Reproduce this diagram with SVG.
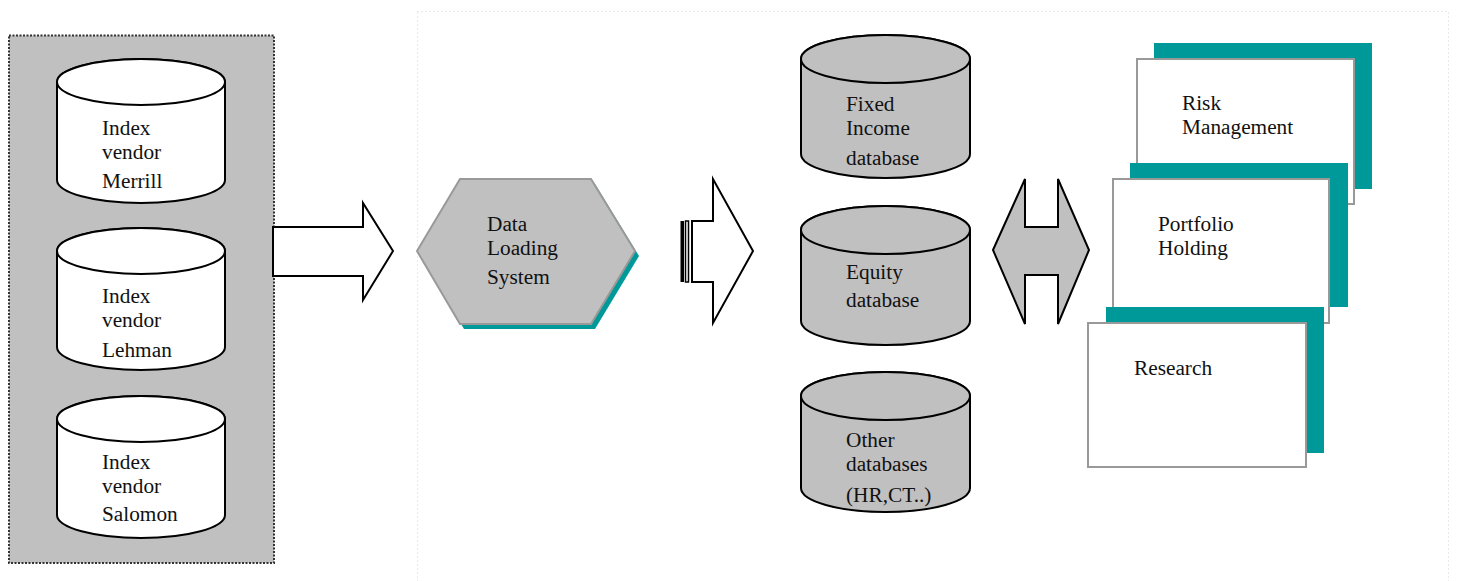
<svg xmlns="http://www.w3.org/2000/svg" width="1457" height="581" viewBox="0 0 1457 581">
  <style>
    .lbl { font-family: "Liberation Serif", "Times New Roman", serif; font-size: 21.3px; fill: #111; }
    .cyl { stroke: #000; stroke-width: 2; }
    .white { fill: #fff; }
    .grey { fill: #c0c0c0; }
    .arrow { fill: #fff; stroke: #000; stroke-width: 2; stroke-linejoin: miter; }
    .shadow { fill: #009999; }
    .card { fill: #fff; stroke: #999; stroke-width: 2; }
  </style>

  <!-- light dotted frame around the processing area -->
  <rect x="417.5" y="11.5" width="1031" height="600" fill="none" stroke="#d4d4d4" stroke-width="1" stroke-dasharray="1,3"/>

  <!-- vendor panel -->
  <g id="vendor-panel">
    <rect x="9" y="35.5" width="265" height="527.5" fill="#c0c0c0" stroke="#333" stroke-width="2" stroke-dasharray="2,1.5"/>
  </g>

  <g id="vendor-merrill">
    <path class="cyl white" d="M57,82 A84,23 0 0 1 225,82 V180 A84,23 0 0 1 57,180 Z"/>
    <ellipse class="cyl white" cx="141" cy="82" rx="84" ry="23"/>
    <text class="lbl" x="102" y="135">Index</text>
    <text class="lbl" x="102" y="159">vendor</text>
    <text class="lbl" x="102" y="188">Merrill</text>
  </g>

  <g id="vendor-lehman">
    <path class="cyl white" d="M57,251 A84,23 0 0 1 225,251 V347 A84,23 0 0 1 57,347 Z"/>
    <ellipse class="cyl white" cx="141" cy="251" rx="84" ry="23"/>
    <text class="lbl" x="102" y="303">Index</text>
    <text class="lbl" x="102" y="327">vendor</text>
    <text class="lbl" x="102" y="357">Lehman</text>
  </g>

  <g id="vendor-salomon">
    <path class="cyl white" d="M57,419 A84,23 0 0 1 225,419 V515 A84,23 0 0 1 57,515 Z"/>
    <ellipse class="cyl white" cx="141" cy="419" rx="84" ry="23"/>
    <text class="lbl" x="102" y="469">Index</text>
    <text class="lbl" x="102" y="493">vendor</text>
    <text class="lbl" x="102" y="521">Salomon</text>
  </g>

  <!-- loader -->
  <g id="data-loading">
    <polygon class="shadow" points="421,256 464,184 595,184 639,256 595,329 464,329"/>
    <polygon points="417,251 460,179 591,179 635,251 591,324 460,324" fill="#c0c0c0" stroke="#999" stroke-width="2"/>
    <text class="lbl" x="487" y="231">Data</text>
    <text class="lbl" x="487" y="255">Loading</text>
    <text class="lbl" x="487" y="284">System</text>
  </g>

  <!-- target databases -->
  <g id="db-fixed-income">
    <path class="cyl grey" d="M801,59 A84.5,24 0 0 1 970,59 V154 A84.5,24 0 0 1 801,154 Z"/>
    <ellipse class="cyl grey" cx="885.5" cy="59" rx="84.5" ry="24"/>
    <text class="lbl" x="846" y="111">Fixed</text>
    <text class="lbl" x="846" y="135">Income</text>
    <text class="lbl" x="846" y="165">database</text>
  </g>

  <g id="db-equity">
    <path class="cyl grey" d="M801,230 A84.5,24 0 0 1 970,230 V321 A84.5,24 0 0 1 801,321 Z"/>
    <ellipse class="cyl grey" cx="885.5" cy="230" rx="84.5" ry="24"/>
    <text class="lbl" x="846" y="279">Equity</text>
    <text class="lbl" x="846" y="307">database</text>
  </g>

  <g id="db-other">
    <path class="cyl grey" d="M801,396 A84.5,24 0 0 1 970,396 V488 A84.5,24 0 0 1 801,488 Z"/>
    <ellipse class="cyl grey" cx="885.5" cy="396" rx="84.5" ry="24"/>
    <text class="lbl" x="846" y="447">Other</text>
    <text class="lbl" x="846" y="471">databases</text>
    <text class="lbl" x="846" y="502">(HR,CT..)</text>
  </g>

  <!-- applications -->
  <g id="app-risk">
    <rect class="shadow" x="1154" y="43" width="218" height="146"/>
    <rect class="card" x="1137" y="59" width="217" height="145"/>
    <text class="lbl" x="1182" y="110">Risk</text>
    <text class="lbl" x="1182" y="134">Management</text>
  </g>

  <g id="app-portfolio">
    <rect class="shadow" x="1130" y="163" width="218" height="144"/>
    <rect class="card" x="1113" y="179" width="216" height="144"/>
    <text class="lbl" x="1158" y="231">Portfolio</text>
    <text class="lbl" x="1158" y="255">Holding</text>
  </g>

  <g id="app-research">
    <rect class="shadow" x="1106" y="307" width="218" height="146"/>
    <rect class="card" x="1088" y="323" width="218" height="144"/>
    <text class="lbl" x="1134" y="375">Research</text>
  </g>

  <!-- block arrows between stages -->
  <g id="connectors">
    <polygon class="arrow" points="273,227 363,227 363,203 393,251 363,300 363,276 273,276"/>
    <rect x="680.5" y="221" width="3.5" height="61" fill="#000"/>
    <rect x="685.5" y="221" width="3" height="61" fill="#fff" stroke="#000" stroke-width="1.5"/>
    <polygon class="arrow" points="692,221 713,221 713,179 753,251 713,323 713,282 692,282"/>
    <polygon points="993,250 1025,179 1025,227 1058,227 1058,179 1089,250 1058,324 1058,275 1025,275 1025,324" fill="#c0c0c0" stroke="#000" stroke-width="2" stroke-linejoin="miter"/>
  </g>
</svg>
